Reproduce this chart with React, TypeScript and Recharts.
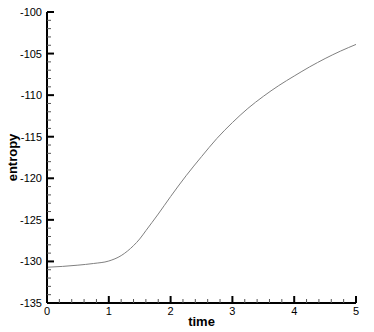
import { LineChart, Line, XAxis, YAxis } from 'recharts';

const times = [0, 0.25, 0.5, 0.75, 1.0, 1.2, 1.4, 1.5, 1.6, 1.8, 2.0, 2.25, 2.5, 2.75, 3.0, 3.25, 3.5, 3.75, 4.0, 4.25, 4.5, 4.75, 5.0];
const entropy = [-130.7, -130.6, -130.45, -130.25, -129.95, -129.3, -128.1, -127.3, -126.3, -124.3, -122.2, -119.7, -117.4, -115.2, -113.3, -111.6, -110.15, -108.85, -107.7, -106.6, -105.6, -104.7, -103.9];

const xMajor = [0, 1, 2, 3, 4, 5];
const yMajor = [-135, -130, -125, -120, -115, -110, -105, -100];

// minor ticks: 4 between each major
const xTicks = xMajor.slice(0, -1).flatMap(m => [0, 0.2, 0.4, 0.6, 0.8].map(f => Math.round((m + f) * 10) / 10)).concat([5]);
const yTicks = yMajor.slice(0, -1).flatMap(m => [0, 1, 2, 3, 4].map(f => m + f)).concat([-100]);

const data = times.map((t, i) => ({ time: t, entropy: entropy[i] }));

const FONT = '"Liberation Sans", Arial, sans-serif';

function XTick(props: any) {
  const { x, y, payload } = props;
  const major = xMajor.includes(payload.value);
  return (
    <g>
      <line x1={x} x2={x} y1={y} y2={y - (major ? 7 : 4)} stroke={major ? '#000' : '#555'} strokeWidth={major ? 2 : 1} />
      {major && (
        <text x={x} y={y + 12} textAnchor="middle" fontSize={11} fontFamily={FONT} fill="#000">
          {payload.value}
        </text>
      )}
    </g>
  );
}

function YTick(props: any) {
  const { x, y, payload } = props;
  const major = yMajor.includes(payload.value);
  return (
    <g>
      <line x1={x} x2={x + (major ? 7 : 4)} y1={y} y2={y} stroke={major ? '#000' : '#555'} strokeWidth={major ? 2 : 1} />
      {major && (
        <text x={x - 5} y={y + 4} textAnchor="end" fontSize={11} fontFamily={FONT} fill="#000">
          {payload.value}
        </text>
      )}
    </g>
  );
}

export default function App() {
  return (
    <div style={{ position: 'absolute', left: 0, top: 0, background: '#fff' }}>
      <LineChart width={374} height={332} data={data} margin={{ top: 12, right: 18, bottom: 0, left: 0 }}>
        <XAxis
          dataKey="time"
          type="number"
          domain={[0, 5]}
          ticks={xTicks}
          interval={0}
          height={29}
          tickSize={0}
          tickMargin={0}
          tickLine={false}
          axisLine={{ stroke: '#000', strokeWidth: 2 }}
          tick={(p: any) => <XTick {...p} />}
          label={{ value: 'time', position: 'insideBottom', offset: 6, fontSize: 13, fontWeight: 'bold', fontFamily: FONT, fill: '#000' }}
          allowDataOverflow
        />
        <YAxis
          type="number"
          domain={[-135, -100]}
          ticks={yTicks}
          interval={0}
          width={47}
          tickSize={0}
          tickMargin={0}
          tickLine={false}
          axisLine={{ stroke: '#000', strokeWidth: 2 }}
          tick={(p: any) => <YTick {...p} />}
          label={{ value: 'entropy', angle: -90, position: 'insideLeft', offset: 12, fontSize: 13, fontWeight: 'bold', fontFamily: FONT, fill: '#000', style: { textAnchor: 'middle' } }}
          allowDataOverflow
        />
        <Line type="monotone" dataKey="entropy" stroke="#808080" strokeWidth={1} dot={false} isAnimationActive={false} />
      </LineChart>
    </div>
  );
}
